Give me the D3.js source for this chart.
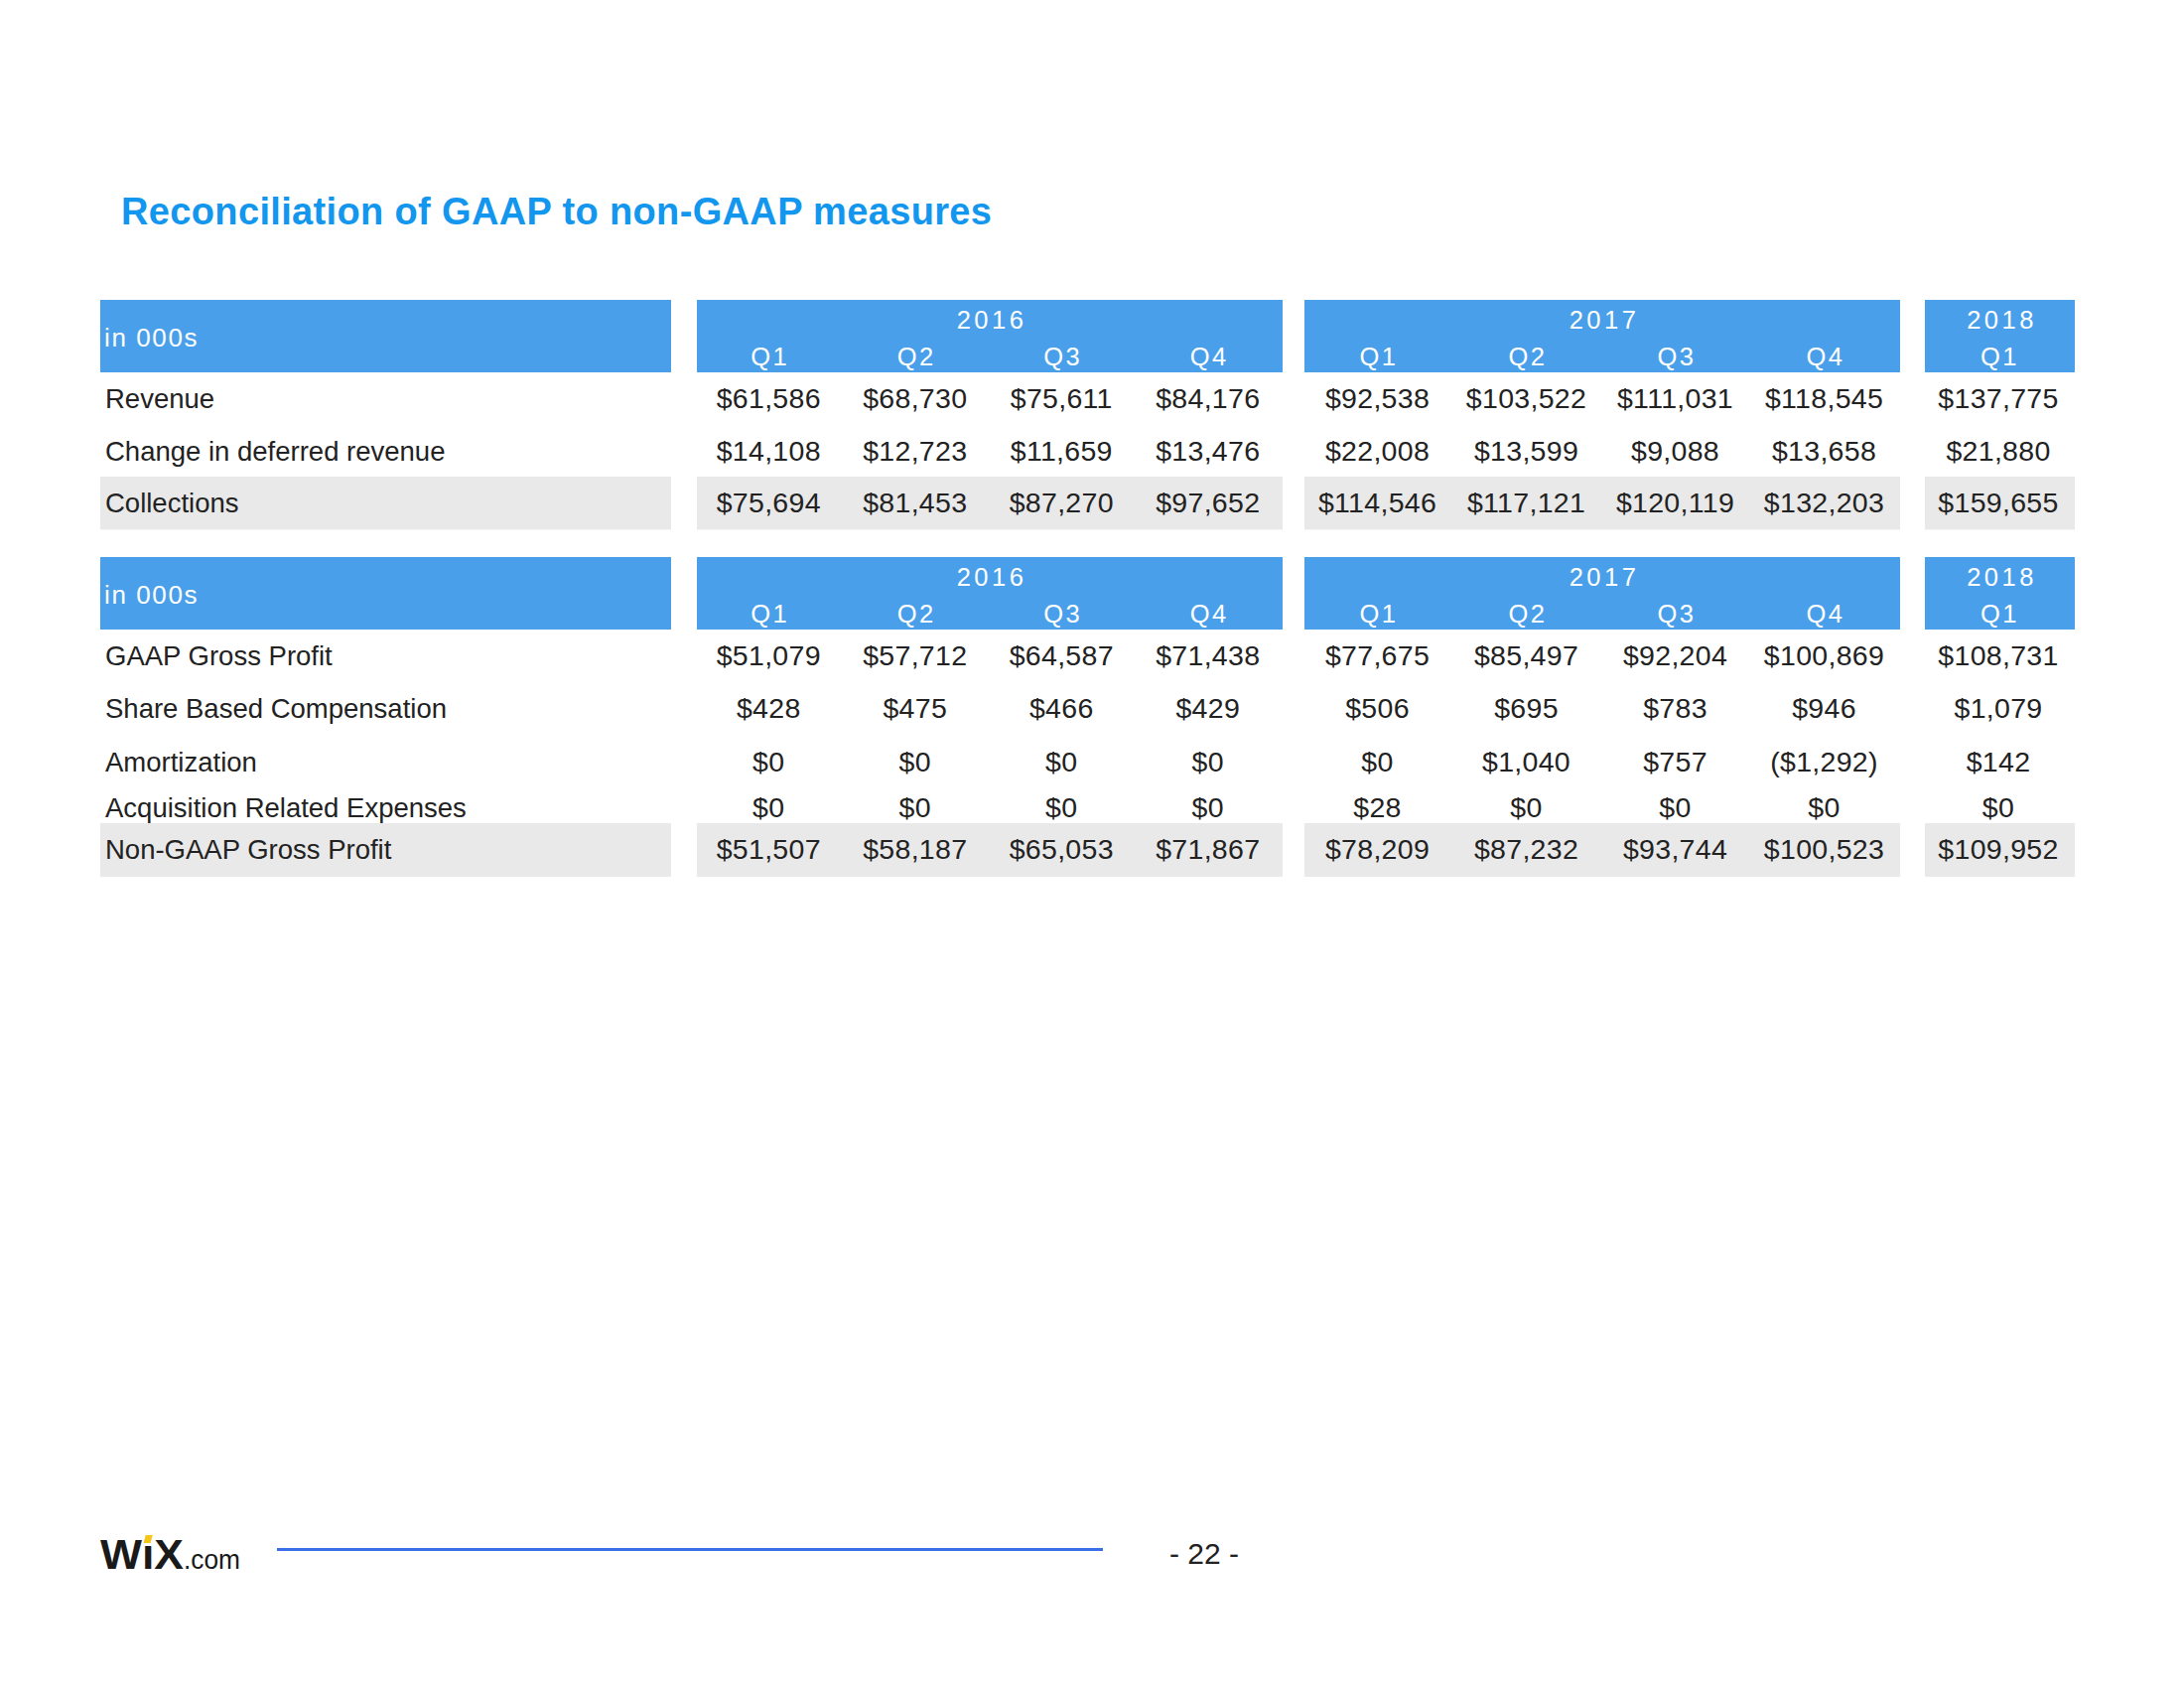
<!DOCTYPE html>
<html>
<head>
<meta charset="utf-8">
<script src="https://cdn.jsdelivr.net/npm/d3@7"></script>
<style>
  html, body { margin: 0; padding: 0; background: #ffffff; }
  svg { display: block; }
  text { font-family: "Liberation Sans", Arial, Helvetica, sans-serif; }
</style>
</head>
<body>
<svg id="chart" width="2200" height="1700"></svg>
<script>
// ---------------- DATA ----------------
const titleText = "Reconciliation of GAAP to non-GAAP measures";
const unitLabel = "in 000s";
const years = ["2016", "2017", "2018"];
const quartersByYear = [["Q1", "Q2", "Q3", "Q4"], ["Q1", "Q2", "Q3", "Q4"], ["Q1"]];

const table1Labels = ["Revenue", "Change in deferred revenue", "Collections"];
const revenue = [61586, 68730, 75611, 84176, 92538, 103522, 111031, 118545, 137775];
const deferredRevenueChange = [14108, 12723, 11659, 13476, 22008, 13599, 9088, 13658, 21880];
const collections = [75694, 81453, 87270, 97652, 114546, 117121, 120119, 132203, 159655];

const table2Labels = ["GAAP Gross Profit", "Share Based Compensation", "Amortization",
                      "Acquisition Related Expenses", "Non-GAAP Gross Profit"];
const gaapGrossProfit = [51079, 57712, 64587, 71438, 77675, 85497, 92204, 100869, 108731];
const shareBasedComp = [428, 475, 466, 429, 506, 695, 783, 946, 1079];
const amortization = [0, 0, 0, 0, 0, 1040, 757, -1292, 142];
const acquisitionExpenses = [0, 0, 0, 0, 28, 0, 0, 0, 0];
const nonGaapGrossProfit = [51507, 58187, 65053, 71867, 78209, 87232, 93744, 100523, 109952];

const pageNumber = "- 22 -";

// ---------------- LAYOUT ----------------
const colors = {
  title: "#1296EE",
  header: "#4A9FEA",
  shade: "#E9E9E9",
  text: "#222222",
  rule: "#3B6FE7"
};
const labelBlock = [101, 676];
const yearBlocks = [[702, 1292], [1314, 1914], [1939, 2090]];
const headerH = 73;
const tables = [
  { top: 302, labels: table1Labels,
    values: [revenue, deferredRevenueChange, collections],
    rowHeights: [52.5, 52.5, 53.4], shaded: [2] },
  { top: 561, labels: table2Labels,
    values: [gaapGrossProfit, shareBasedComp, amortization, acquisitionExpenses, nonGaapGrossProfit],
    rowHeights: [53.4, 54, 45.3, 42.3, 54], shaded: [4] }
];

const svg = d3.select("#chart");
svg.append("rect").attr("width", 2200).attr("height", 1700).attr("fill", "#fff");

// Column scales: one band scale per year block
const yearScales = years.map((y, i) =>
  d3.scaleBand().domain(quartersByYear[i]).range(yearBlocks[i]).paddingInner(0).paddingOuter(0));
const columns = years.flatMap((y, i) => quartersByYear[i].map(q => ({
  year: y, q, yi: i, cx: yearScales[i](q) + yearScales[i].bandwidth() / 2 - 1.5
})));

const money = d3.format(",");
const fmt = v => v < 0 ? "($" + money(-v) + ")" : "$" + money(v);

// ---------------- TITLE ----------------
svg.append("text")
  .attr("x", 122).attr("y", 225.5)
  .attr("fill", colors.title)
  .attr("font-size", 38).attr("font-weight", "bold")
  .attr("textLength", 877).attr("lengthAdjust", "spacing")
  .text(titleText);

// ---------------- TABLES ----------------
tables.forEach(t => {
  const g = svg.append("g");
  const blocks = [labelBlock, ...yearBlocks];
  // header bars
  g.selectAll("rect.hdr").data(blocks).join("rect")
    .attr("class", "hdr")
    .attr("x", d => d[0]).attr("y", t.top)
    .attr("width", d => d[1] - d[0]).attr("height", headerH)
    .attr("fill", colors.header);

  g.append("text")
    .attr("x", labelBlock[0] + 4).attr("y", t.top + 46.5)
    .attr("fill", "#fff").attr("font-size", 26).attr("letter-spacing", 1.6)
    .text(unitLabel);

  g.selectAll("text.year").data(years).join("text")
    .attr("class", "year")
    .attr("x", (d, i) => (yearBlocks[i][0] + yearBlocks[i][1]) / 2 + 2)
    .attr("y", t.top + 29)
    .attr("text-anchor", "middle")
    .attr("fill", "#fff").attr("font-size", 25.5).attr("letter-spacing", 3.5)
    .text(d => d);

  g.selectAll("text.qtr").data(columns).join("text")
    .attr("class", "qtr")
    .attr("x", d => d.cx + 1.5)
    .attr("y", t.top + 66)
    .attr("text-anchor", "middle")
    .attr("fill", "#fff").attr("font-size", 25.5).attr("letter-spacing", 2.5)
    .text(d => d.q);

  // rows
  const tops = [];
  let acc = t.top + headerH;
  t.rowHeights.forEach(h => { tops.push(acc); acc += h; });

  t.labels.forEach((lab, r) => {
    if (t.shaded.includes(r)) {
      g.selectAll(null).data(blocks).join("rect")
        .attr("x", d => d[0]).attr("y", tops[r])
        .attr("width", d => d[1] - d[0]).attr("height", t.rowHeights[r])
        .attr("fill", colors.shade);
    }
    const base = tops[r] + 36;
    g.append("text")
      .attr("x", 106).attr("y", base)
      .attr("fill", colors.text).attr("font-size", 27.5)
      .text(lab);
    g.selectAll(null).data(t.values[r]).join("text")
      .attr("x", (d, i) => columns[i].cx)
      .attr("y", base)
      .attr("text-anchor", "middle")
      .attr("fill", colors.text).attr("font-size", 28.5)
      .attr("letter-spacing", 0.3)
      .text(d => fmt(d));
  });
});

// ---------------- FOOTER ----------------
const logo = svg.append("text")
  .attr("x", 101).attr("y", 1579.5)
  .attr("fill", "#1a1a1a").attr("font-size", 43).attr("font-weight", "bold")
  .attr("textLength", 84).attr("lengthAdjust", "spacingAndGlyphs")
  .text("W\u0131X");
svg.append("text")
  .attr("x", 185).attr("y", 1579.5)
  .attr("fill", "#1a1a1a").attr("font-size", 28)
  .attr("textLength", 57).attr("lengthAdjust", "spacingAndGlyphs")
  .text(".com");
try {
  const ext = logo.node().getExtentOfChar(1);
  const cx = ext.x + ext.width / 2;
  svg.append("rect")
    .attr("x", cx - 3.5).attr("y", 1546).attr("width", 7).attr("height", 8)
    .attr("fill", "#F5C518")
    .attr("transform", `skewX(-15) translate(${(1550) * Math.tan(15 * Math.PI / 180)},0)`);
} catch (e) {}

svg.append("line")
  .attr("x1", 279).attr("x2", 1111).attr("y1", 1560.5).attr("y2", 1560.5)
  .attr("stroke", colors.rule).attr("stroke-width", 3);

svg.append("text")
  .attr("x", 1213).attr("y", 1574.5)
  .attr("text-anchor", "middle")
  .attr("fill", colors.text).attr("font-size", 30)
  .text(pageNumber);
</script>
</body>
</html>
